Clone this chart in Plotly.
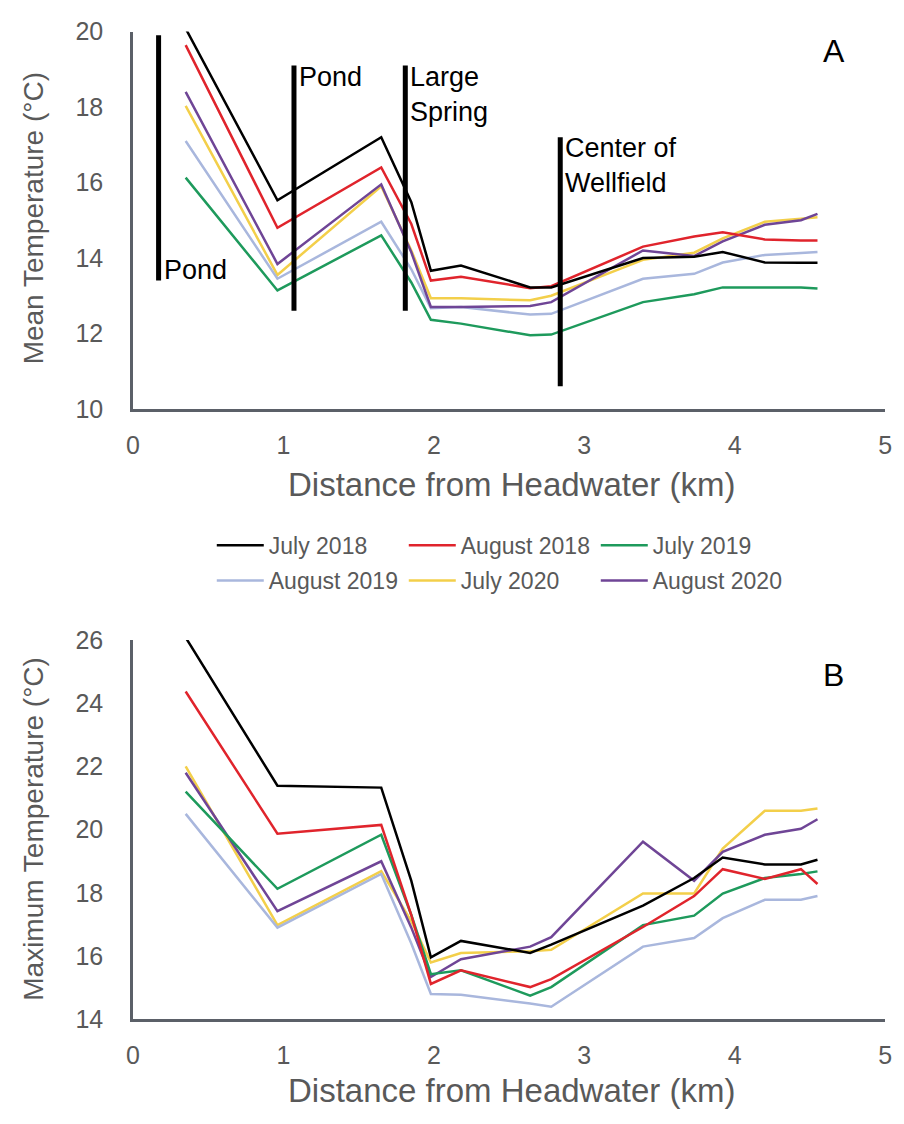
import plotly.graph_objects as go

# ---------------- data ----------------
distance_km = [0.35, 0.96, 1.65, 1.85, 1.98, 2.18, 2.64, 2.78, 3.39, 3.73, 3.92, 4.20, 4.44, 4.55]

series_names = ["July 2018", "August 2018", "July 2019", "August 2019", "July 2020", "August 2020"]
series_colors = ["#000000", "#e0242c", "#1e9a5c", "#a9b7dd", "#f3cf4a", "#6f4596"]

mean_jul2018 = [20.08, 15.53, 17.20, 15.48, 13.66, 13.80, 13.22, 13.22, 14.00, 14.03, 14.16, 13.88, 13.87, 13.87]
mean_aug2018 = [19.64, 14.80, 16.40, 14.90, 13.40, 13.50, 13.20, 13.25, 14.30, 14.57, 14.68, 14.49, 14.46, 14.46]
mean_jul2019 = [16.13, 13.14, 14.60, 13.35, 12.36, 12.26, 11.95, 11.97, 12.83, 13.04, 13.22, 13.22, 13.22, 13.19]
mean_aug2019 = [17.10, 13.45, 14.96, 13.70, 12.67, 12.70, 12.50, 12.52, 13.45, 13.58, 13.88, 14.08, 14.13, 14.16]
mean_jul2020 = [18.03, 13.55, 15.90, 14.20, 12.93, 12.93, 12.88, 13.00, 13.95, 14.14, 14.52, 14.96, 15.04, 15.08]
mean_aug2020 = [18.40, 13.84, 15.95, 14.15, 12.70, 12.70, 12.73, 12.83, 14.20, 14.05, 14.44, 14.88, 15.00, 15.17]

max_jul2018 = [26.08, 21.39, 21.33, 18.38, 15.96, 16.48, 16.10, 16.36, 17.60, 18.47, 19.12, 18.90, 18.90, 19.05]
max_aug2018 = [24.37, 19.87, 20.15, 17.30, 15.12, 15.55, 15.02, 15.27, 16.92, 17.90, 18.75, 18.44, 18.75, 18.28]
max_jul2019 = [21.20, 18.13, 19.84, 17.30, 15.43, 15.55, 14.75, 15.02, 16.98, 17.28, 17.98, 18.47, 18.60, 18.68]
max_aug2019 = [20.50, 16.90, 18.60, 16.40, 14.80, 14.78, 14.50, 14.40, 16.30, 16.57, 17.20, 17.78, 17.78, 17.90]
max_jul2020 = [22.00, 16.98, 18.69, 17.10, 15.80, 16.10, 16.15, 16.20, 17.98, 17.98, 19.40, 20.60, 20.60, 20.67]
max_aug2020 = [21.80, 17.42, 19.00, 16.90, 15.34, 15.90, 16.30, 16.60, 19.62, 18.38, 19.30, 19.84, 20.03, 20.33]

mean_series = [mean_jul2018, mean_aug2018, mean_jul2019, mean_aug2019, mean_jul2020, mean_aug2020]
max_series = [max_jul2018, max_aug2018, max_jul2019, max_aug2019, max_jul2020, max_aug2020]

# landmark markers (panel A)
landmark_x = [0.17, 1.07, 1.81, 2.84]
landmark_top = [19.9, 19.1, 19.1, 17.2]
landmark_bottom = [13.4, 12.6, 12.6, 10.6]
landmark_labels = ["Pond", "Pond", "Large<br>Spring", "Center of<br>Wellfield"]
landmark_label_at_bottom = [True, False, False, False]

x_ticks = [0, 1, 2, 3, 4, 5]
mean_ticks = [10, 12, 14, 16, 18, 20]
max_ticks = [14, 16, 18, 20, 22, 24, 26]

# ---------------- figure ----------------
W, H = 904, 1124
FONT = "Liberation Sans, Arial, sans-serif"
GRAY = "#595959"
AXIS = "#5b6068"

fig = go.Figure()

draw_order = [4, 3, 5, 2, 1, 0]
for i in draw_order:
    fig.add_trace(go.Scatter(
        x=distance_km, y=mean_series[i], mode="lines", name=series_names[i],
        line=dict(color=series_colors[i], width=2.5),
        xaxis="x", yaxis="y", legend="legend" if i < 3 else "legend2",
        legendrank=i, showlegend=True))
for i in draw_order:
    fig.add_trace(go.Scatter(
        x=distance_km, y=max_series[i], mode="lines", name=series_names[i],
        line=dict(color=series_colors[i], width=2.5),
        xaxis="x2", yaxis="y2", showlegend=False))

xdom = [128 / W, 892 / W]
ydomA = [1 - 405 / H, 1 - 18 / H]
ydomB = [1 - 1031 / H, 1 - 642 / H]

axis_common = dict(showgrid=False, zeroline=False, showline=True, linecolor=AXIS, linewidth=2.5,
                   ticks="", tickfont=dict(family=FONT, size=25, color=GRAY))

legend_common = dict(orientation="h", xanchor="left", yanchor="middle",
                     entrywidth=130, entrywidthmode="pixels",
                     font=dict(family=FONT, size=23, color=GRAY),
                     bgcolor="rgba(0,0,0,0)", itemwidth=47, traceorder="normal")

fig.update_layout(
    width=W, height=H,
    margin=dict(l=0, r=0, t=0, b=0),
    paper_bgcolor="white", plot_bgcolor="white",
    font=dict(family=FONT, color=GRAY),
    xaxis=dict(domain=xdom, range=[0, 5], tickvals=x_ticks, anchor="y",
               ticklabelstandoff=12, **axis_common),
    yaxis=dict(domain=ydomA, range=[10, 20], tickvals=mean_ticks, anchor="x",
               ticklabelstandoff=22, **axis_common),
    xaxis2=dict(domain=xdom, range=[0, 5], tickvals=x_ticks, anchor="y2",
                ticklabelstandoff=12, **axis_common),
    yaxis2=dict(domain=ydomB, range=[14, 26], tickvals=max_ticks, anchor="x2",
                ticklabelstandoff=22, **axis_common),
    legend=dict(x=208 / W, y=1 - 545 / H, **legend_common),
    legend2=dict(x=208 / W, y=1 - 581 / H, **legend_common),
    showlegend=True,
)

# landmark lines and labels
for xv, yt, yb, lab, at_bottom in zip(landmark_x, landmark_top, landmark_bottom,
                                      landmark_labels, landmark_label_at_bottom):
    fig.add_shape(type="line", xref="x", yref="y", x0=xv, x1=xv, y0=yb, y1=yt,
                  line=dict(color="black", width=5))
    if at_bottom:
        fig.add_annotation(x=xv, y=yb, xref="x", yref="y", text=lab, showarrow=False,
                           xanchor="left", yanchor="bottom", xshift=3, yshift=-6,
                           font=dict(family=FONT, size=27, color="black"))
    else:
        fig.add_annotation(x=xv, y=yt, xref="x", yref="y", text=lab, showarrow=False,
                           xanchor="left", yanchor="top", xshift=3, yshift=6, align="left",
                           font=dict(family=FONT, size=27, color="black"))

# panel letters
fig.add_annotation(x=840 / W, y=1 - 38 / H, xref="paper", yref="paper", text="A", showarrow=False,
                   xanchor="center", yanchor="middle", font=dict(family=FONT, size=32, color="black"))
fig.add_annotation(x=840 / W, y=1 - 678 / H, xref="paper", yref="paper", text="B", showarrow=False,
                   xanchor="center", yanchor="middle", font=dict(family=FONT, size=32, color="black"))

# axis titles
for yc in [483, 1104]:
    fig.add_annotation(x=512 / W, y=1 - yc / H, xref="paper", yref="paper",
                       text="Distance from Headwater (km)", showarrow=False,
                       xanchor="center", yanchor="middle",
                       font=dict(family=FONT, size=33, color=GRAY))
fig.add_annotation(x=27 / W, y=1 - 210 / H, xref="paper", yref="paper",
                   text="Mean Temperature (°C)", textangle=-90, showarrow=False,
                   xanchor="center", yanchor="middle",
                   font=dict(family=FONT, size=28, color=GRAY))
fig.add_annotation(x=27 / W, y=1 - 836 / H, xref="paper", yref="paper",
                   text="Maximum Temperature (°C)", textangle=-90, showarrow=False,
                   xanchor="center", yanchor="middle",
                   font=dict(family=FONT, size=28, color=GRAY))

fig.write_html("out.html")
